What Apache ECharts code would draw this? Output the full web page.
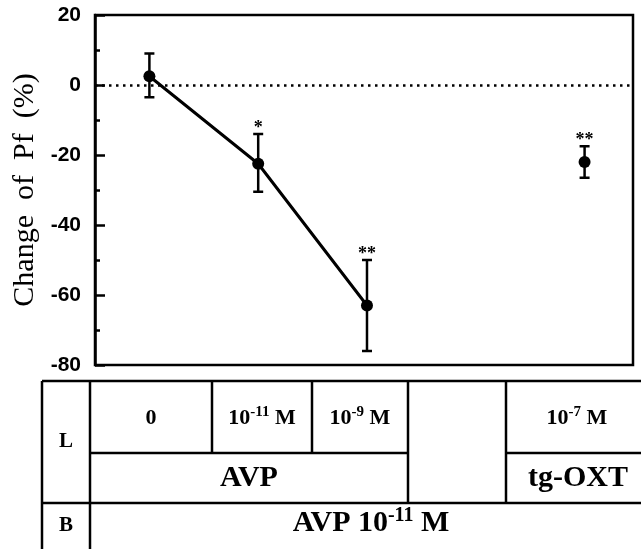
<!DOCTYPE html>
<html>
<head>
<meta charset="utf-8">
<script src="https://cdn.jsdelivr.net/npm/echarts@6/dist/echarts.min.js"></script>
<style>
html,body{margin:0;padding:0;background:#fff;}
#chart{width:641px;height:549px;}
</style>
</head>
<body>
<div id="chart"></div>
<script>
// ---- data ----
const groupX = [0.5, 1.5, 2.5, 4.5];          // group positions on the x scale
const meanValues = [2.5, -22.5, -63, -22];     // % change of Pf
const errUpper = [9, -14, -50, -17.5];
const errLower = [-3.5, -30.5, -76, -26.5];
const significance = ['', '*', '**', '**'];
const connected = [true, true, true, false];
const yMin = -80, yMax = 20, yInterval = 20;
const xMin = 0, xMax = 4.945;
const yTitle = 'Change  of  Pf  (%)';

// table texts
const rowLabels = ['L', 'B'];
const doseBase = ['0', '10', '10', '', '10'];
const doseExp = ['', '-11', '-9', '', '-7'];
const doseUnit = ['', ' M', ' M', '', ' M'];
const agentLabels = ['AVP', 'tg-OXT'];
const bathBase = 'AVP 10', bathExp = '-11', bathUnit = ' M';

// ---- layout (pixels) ----
const G = {left: 95, top: 15, width: 538, height: 350};
const T = {
  left: 42, right: 645, top: 381, mid: 453, rowB: 503, bottom: 560,
  labelCol: 90, cols: [90, 212, 312, 408, 506, 645]
};

const serif = '"Liberation Serif", "Times New Roman", serif';
const sans = '"Liberation Sans", Arial, sans-serif';

const lineData = [], soloData = [], errData = [];
groupX.forEach((x, i) => {
  (connected[i] ? lineData : soloData).push([x, meanValues[i]]);
  errData.push([x, errLower[i], errUpper[i], significance[i]]);
});

function richText(base, exp, unit, size, supSize) {
  const parts = [];
  if (base) parts.push('{b|' + base + '}');
  if (exp) parts.push('{s|' + exp + '}');
  if (unit) parts.push('{b|' + unit + '}');
  return {
    text: parts.join(''),
    rich: {
      b: {fontFamily: serif, fontWeight: 'bold', fontSize: size, lineHeight: size + 4, fill: '#000'},
      s: {fontFamily: serif, fontWeight: 'bold', fontSize: supSize, lineHeight: supSize, verticalAlign: 'top', fill: '#000'}
    }
  };
}

const graphics = [];
function hLine(x1, x2, y) {
  graphics.push({type: 'line', silent: true, shape: {x1, y1: y, x2, y2: y}, style: {stroke: '#000', lineWidth: 2.5}});
}
function vLine(x, y1, y2) {
  graphics.push({type: 'line', silent: true, shape: {x1: x, y1, x2: x, y2}, style: {stroke: '#000', lineWidth: 2.5}});
}
function addText(x, y, content) {
  graphics.push({type: 'text', silent: true, x, y,
    style: Object.assign({align: 'center', verticalAlign: 'middle'}, content)});
}
// grid lines of table
hLine(T.left, T.right, T.top);
hLine(T.cols[0], T.cols[3], T.mid);
hLine(T.cols[4], T.right, T.mid);
hLine(T.left, T.right, T.rowB);
vLine(T.left, T.top, T.bottom);
vLine(T.labelCol, T.top, T.bottom);
vLine(T.cols[1], T.top, T.mid);
vLine(T.cols[2], T.top, T.mid);
vLine(T.cols[3], T.top, T.rowB);
vLine(T.cols[4], T.top, T.rowB);
// texts
addText((T.left + T.labelCol) / 2, (T.top + T.rowB) / 2, {text: rowLabels[0], fontFamily: serif, fontWeight: 'bold', fontSize: 21, fill: '#000'});
addText((T.left + T.labelCol) / 2, 526, {text: rowLabels[1], fontFamily: serif, fontWeight: 'bold', fontSize: 21, fill: '#000'});
const doseCenters = [151, 262, 360, 457, 577];
doseBase.forEach((b, i) => {
  if (!b) return;
  addText(doseCenters[i], (T.top + T.mid) / 2 + 1, richText(b, doseExp[i], doseUnit[i], 22, 15));
});
addText(249, 478, {text: agentLabels[0], fontFamily: serif, fontWeight: 'bold', fontSize: 30, fill: '#000'});
addText(578, 478, {text: agentLabels[1], fontFamily: serif, fontWeight: 'bold', fontSize: 30, fill: '#000'});
addText(371, 523, richText(bathBase, bathExp, bathUnit, 30, 20));

const chart = echarts.init(document.getElementById('chart'), null, {renderer: 'canvas'});
chart.setOption({
  animation: false,
  backgroundColor: '#fff',
  grid: Object.assign({show: true, borderColor: '#000', borderWidth: 2.5, backgroundColor: 'transparent', containLabel: false, outerBoundsMode: 'none'}, G),
  xAxis: {
    type: 'value', min: xMin, max: xMax,
    axisLine: {show: false}, axisTick: {show: false}, axisLabel: {show: false}, splitLine: {show: false}
  },
  yAxis: {
    type: 'value', min: yMin, max: yMax, interval: yInterval,
    name: yTitle, nameLocation: 'middle', nameGap: 52, nameRotate: 90,
    nameTextStyle: {fontFamily: serif, fontSize: 30, color: '#000'},
    axisLine: {show: true, lineStyle: {color: '#000', width: 2.5}},
    axisTick: {show: true, inside: true, length: 10, lineStyle: {color: '#000', width: 2.5}},
    minorTick: {show: true, splitNumber: 2, length: 5, lineStyle: {color: '#000', width: 2.5}},
    axisLabel: {fontFamily: sans, fontWeight: 'bold', fontSize: 21, color: '#000', margin: 14},
    splitLine: {show: false}
  },
  series: [
    {
      type: 'line', data: lineData, symbol: 'circle', symbolSize: 12,
      lineStyle: {color: '#000', width: 3}, itemStyle: {color: '#000', opacity: 1}, z: 3,
      markLine: {
        silent: true, symbol: 'none', label: {show: false},
        lineStyle: {color: '#000', type: [2.5, 4.5], width: 2.5},
        data: [{yAxis: 0}]
      }
    },
    {
      type: 'scatter', data: soloData, symbol: 'circle', symbolSize: 12,
      itemStyle: {color: '#000', opacity: 1}, z: 3
    },
    {
      type: 'custom', data: errData, z: 2,
      encode: {x: 0, y: [1, 2]},
      renderItem: function (params, api) {
        const x = api.value(0);
        const lo = api.coord([x, api.value(1)]);
        const hi = api.coord([x, api.value(2)]);
        const star = api.value(3);
        const cap = 5;
        const st = {stroke: '#000', lineWidth: 2.5};
        const children = [
          {type: 'line', shape: {x1: hi[0], y1: hi[1], x2: lo[0], y2: lo[1]}, style: st},
          {type: 'line', shape: {x1: hi[0] - cap, y1: hi[1], x2: hi[0] + cap, y2: hi[1]}, style: st},
          {type: 'line', shape: {x1: lo[0] - cap, y1: lo[1], x2: lo[0] + cap, y2: lo[1]}, style: st}
        ];
        if (star) {
          children.push({type: 'text', x: hi[0], y: hi[1] - 6,
            style: {text: star, align: 'center', verticalAlign: 'middle', fontFamily: serif, fontWeight: 'bold', fontSize: 18, fill: '#000'}});
        }
        return {type: 'group', children};
      }
    }
  ],
  graphic: graphics
});
</script>
</body>
</html>
